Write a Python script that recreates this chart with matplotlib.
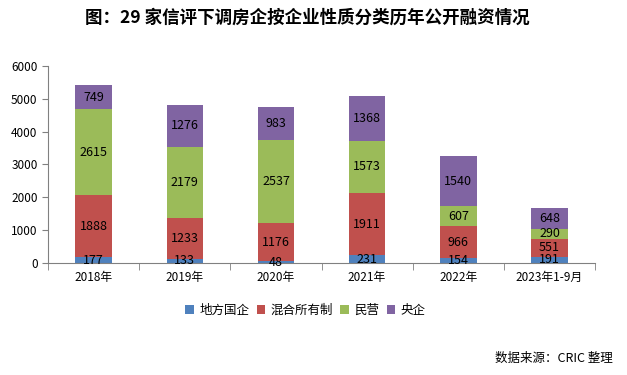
import matplotlib
matplotlib.use("Agg")
import matplotlib.pyplot as plt
import numpy as np

plt.rcParams['font.family'] = ['Noto Sans CJK SC', 'DejaVu Sans']

categories = ['2018年', '2019年', '2020年', '2021年', '2022年', '2023年1-9月']
local_soe = [177, 133, 48, 231, 154, 191]
mixed = [1888, 1233, 1176, 1911, 966, 551]
private = [2615, 2179, 2537, 1573, 607, 290]
central_soe = [749, 1276, 983, 1368, 1540, 648]
series_names = ['地方国企', '混合所有制', '民营', '央企']
colors = ['#4F81BD', '#C0504D', '#9BBB59', '#8064A2']

fig = plt.figure(figsize=(6.27, 3.75), dpi=100)
ax = fig.add_axes([0.0766, 0.2987, 0.8724, 0.5253])

x = np.arange(len(categories))
bottom = np.zeros(len(categories))
for vals, name, c in zip([local_soe, mixed, private, central_soe], series_names, colors):
    vals = np.array(vals, dtype=float)
    ax.bar(x, vals, width=0.4, bottom=bottom, color=c, label=name)
    for xi, b, v in zip(x, bottom, vals):
        ax.text(xi, b + v / 2, f'{int(v)}', ha='center', va='center', fontsize=9, color='black')
    bottom += vals

ax.set_xlim(-0.5, len(categories) - 0.5)
ax.set_ylim(0, 6000)
ax.set_yticks(np.arange(0, 6001, 1000))
ax.set_xticks(x)
ax.set_xticklabels(categories, fontsize=8.5)
ax.tick_params(axis='x', which='major', length=0, pad=6)
ax.set_xticks(np.arange(-0.5, len(categories), 1), minor=True)
ax.tick_params(axis='x', which='minor', length=5, color='#808080')
ax.tick_params(axis='y', length=4, color='#808080', labelsize=8.5)
for s in ['top', 'right']:
    ax.spines[s].set_visible(False)
for s in ['left', 'bottom']:
    ax.spines[s].set_color('#808080')

fig.text(0.490, 0.952, '图：29 家信评下调房企按企业性质分类历年公开融资情况', ha='center', va='center',
         fontsize=12.6, fontweight='bold')

fig.legend(loc='center', bbox_to_anchor=(0.487, 0.172), ncol=4, frameon=False,
           fontsize=9, handlelength=0.7, handleheight=0.7, handletextpad=0.4, columnspacing=0.6)

fig.text(0.977, 0.045, '数据来源：CRIC 整理', ha='right', va='center', fontsize=9)

fig.savefig('out.png', dpi=100)
